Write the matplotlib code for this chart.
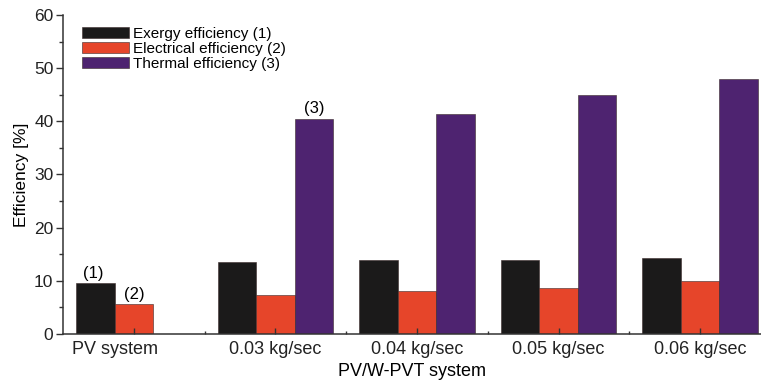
import matplotlib
matplotlib.use("Agg")
import matplotlib.pyplot as plt
import numpy as np
from matplotlib.ticker import MultipleLocator

categories = ["PV system", "0.03 kg/sec", "0.04 kg/sec", "0.05 kg/sec", "0.06 kg/sec"]
exergy = [9.6, 13.5, 13.9, 14.0, 14.3]
electrical = [5.7, 7.3, 8.1, 8.7, 10.0]
thermal = [np.nan, 40.4, 41.4, 44.9, 47.9]
series_labels = ["Exergy efficiency (1)", "Electrical efficiency (2)", "Thermal efficiency (3)"]
colors = ["#1b1a1a", "#e6452a", "#4e2370"]

plt.rcParams["font.family"] = ["Liberation Sans", "DejaVu Sans"]

fig = plt.figure(figsize=(7.61, 3.83), dpi=100)
ax = fig.add_axes([0.083, 0.128, 0.917, 0.833])

x = np.arange(len(categories))
w = 0.272
for i, (vals, lab, col) in enumerate(zip([exergy, electrical, thermal], series_labels, colors)):
    ax.bar(x + (i - 1) * w, vals, width=w, color=col, edgecolor="#3a2a2a",
           linewidth=0.4, label=lab)

# series markers above the first bars of each kind
ax.text(x[0] - w * 1.05, exergy[0] + 0.4, "(1)", ha="center", va="bottom", fontsize=12)
ax.text(x[0], electrical[0] + 0.4, "(2)", ha="center", va="bottom", fontsize=12)
ax.text(x[1] + w, thermal[1] + 0.6, "(3)", ha="center", va="bottom", fontsize=12)

ax.set_xlim(-0.5, 4.43)
ax.set_ylim(0, 60)
ax.yaxis.set_major_locator(MultipleLocator(10))
ax.yaxis.set_minor_locator(MultipleLocator(5))
ax.set_xticks(x)
# the PV system group has only two bars, so its label sits under those two
ax.set_xticklabels([""] + categories[1:], fontsize=13)
ax.annotate(categories[0], xy=(x[0] - w / 2, 0), xycoords=("data", "axes fraction"),
            xytext=(0, -5), textcoords="offset points", ha="center", va="top",
            fontsize=13, color="#222222")
ax.set_xticks(x[:-1] + 0.5, minor=True)

for s in ["top", "right"]:
    ax.spines[s].set_visible(False)
for s in ["left", "bottom"]:
    ax.spines[s].set_linewidth(1.1)
    ax.spines[s].set_color("#333333")

ax.tick_params(axis="y", which="major", direction="out", length=5, width=1, labelsize=12.5,
               pad=2, colors="#333333")
ax.tick_params(axis="y", which="minor", direction="out", length=3, width=1, colors="#333333")
ax.tick_params(axis="x", which="major", direction="in", length=4, width=1, pad=5, colors="#333333")
ax.tick_params(axis="x", which="minor", direction="in", length=2, width=1, colors="#333333")
for t in ax.get_xticklabels() + ax.get_yticklabels():
    t.set_color("#222222")

ax.set_ylabel("Efficiency [%]", fontsize=12.5, labelpad=4)
ax.set_xlabel("PV/W-PVT system", fontsize=13, labelpad=4)

ax.legend(loc="upper left", bbox_to_anchor=(0.015, 0.99), frameon=False, fontsize=11,
          handlelength=3.1, handleheight=0.7, handletextpad=0.25, labelspacing=0.08,
          borderaxespad=0.15)

fig.savefig("out.png", dpi=100)
